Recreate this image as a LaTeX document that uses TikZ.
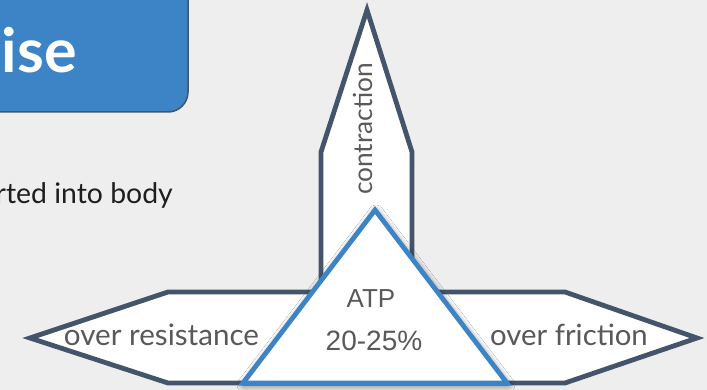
\documentclass[tikz,border=0pt]{standalone}
\usepackage{fontspec}
\setmainfont{Lato}
\newfontfamily\numfont{Liberation Sans}
\usetikzlibrary{shadows.blur}

\definecolor{pagebg}{HTML}{EEEEEE}
\definecolor{titleblue}{HTML}{3D84C6}
\definecolor{slate}{HTML}{44546A}
\definecolor{labelgrey}{HTML}{595959}
\definecolor{bodyink}{HTML}{1E1E1E}

\tikzset{
  titlebox/.style={fill=titleblue, draw=slate, line width=1.5pt, rounded corners=20pt},
  arrowshape/.style={draw=slate, fill=white, line width=4.8pt, line join=miter},
  atpshape/.style={draw=titleblue, fill=white, line width=4.8pt, line join=miter,
    blur shadow={shadow blur steps=12, shadow xshift=1pt, shadow yshift=-2pt,
      shadow blur radius=7pt, shadow opacity=60}},
  label/.style={inner sep=0pt, text=labelgrey},
}

\begin{document}
\begin{tikzpicture}[x=1pt, y=-1pt]
\useasboundingbox (0,0) rectangle (707,390);
\clip (0,0) rectangle (707,390);
\fill[pagebg] (0,0) rectangle (707,390);

% heading box, running off the top-left corner
\draw[titlebox] (-60,-60) rectangle (188,112);
\node[inner sep=0pt, anchor=base east, text=white,
      font=\bfseries\fontsize{61}{61}\selectfont] (title) at (77,73) {ise};

% body line
\node[inner sep=0pt, anchor=base east, text=bodyink,
      font=\fontsize{28.4}{30}\selectfont] (body) at (173,204) {rted into body};

% three-way arrow outline
\draw[arrowshape]
  (30,338) -- (168,292) -- (321,292) -- (321,152) -- (367,10) -- (412,152)
  -- (412,292) -- (565,292) -- (697,338) -- (565,383) -- (168,383) -- cycle;

% ATP triangle
\draw[atpshape] (375,210) -- (507,383) -- (243,383) -- cycle;

% labels
\node[label, rotate=90, font=\fontsize{26.3}{27}\selectfont] (contraction) at (363,129) {contraction};
\node[label, anchor=base, font=\fontsize{29.6}{30}\selectfont] (resistance) at (161.5,345) {over resistance};
\node[label, anchor=base, font=\fontsize{29.3}{30}\selectfont] (friction) at (569,345) {over friction};
\node[label, anchor=base, font=\numfont\fontsize{26}{26}\selectfont] (atp) at (371,307) {ATP};
\node[label, anchor=base, font=\numfont\fontsize{28}{28}\selectfont] (share) at (374,350) {20-25\%};
\end{tikzpicture}
\end{document}
